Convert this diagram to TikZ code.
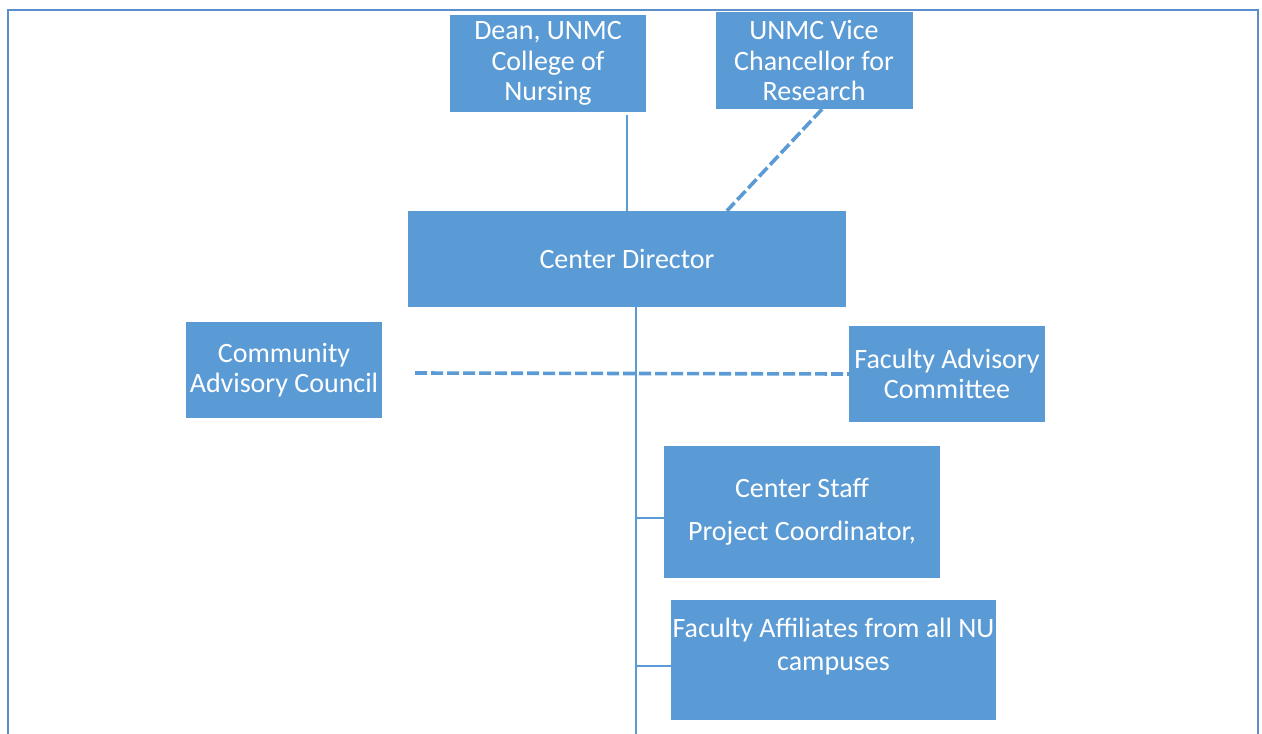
\documentclass[tikz,border=0pt]{standalone}
\usepackage{fontspec}
\setmainfont{Carlito}
\usetikzlibrary{calc}
\definecolor{boxblue}{HTML}{5B9BD5}
\definecolor{frameblue}{HTML}{5A8FCC}
\tikzset{
  orgbox/.style={fill=boxblue, text=white, align=center, inner sep=0pt, draw=none,
    font=\fontsize{28}{30.5}\selectfont},
  solidlink/.style={draw=boxblue, line width=1.6pt},
  dashlink/.style={draw=boxblue, line width=3.6pt, dash pattern=on 12pt off 4pt},
}
\begin{document}
\begin{tikzpicture}[x=1pt,y=-1pt]
\useasboundingbox (0,0) rectangle (1262,734);
% frame
\draw[frameblue, line width=2pt] (8,745) -- (8,10) -- (1258,10) -- (1258,745);
% boxes
\node[orgbox, minimum width=196pt, minimum height=97pt] (dean) at (548,63.5) {Dean, UNMC\\College of\\Nursing};
\node[orgbox, minimum width=197pt, minimum height=97pt] (vice) at (814,60.5) {UNMC Vice\\Chancellor for\\Research};
\node[orgbox, minimum width=438pt, minimum height=96pt] (dir) at (627,259) {Center Director};
\node[orgbox, minimum width=196pt, minimum height=96pt] (cac) at (284,370) {Community\\Advisory Council};
\node[orgbox, minimum width=196pt, minimum height=96pt] (fac) at (947,374) {Faculty Advisory\\Committee};
\node[orgbox, minimum width=276pt, minimum height=132pt] (staff) at (802,512) {Center Staff\\[12.5pt]Project Coordinator,};
\node[orgbox, minimum width=325pt, minimum height=120pt] (aff) at (833.5,660) {Faculty Affiliates from all NU\\[2.5pt]campuses\\\mbox{}};
\coordinate (trunk) at ($(dir.south)+(9,0)$);
\coordinate (bot) at ($(trunk)+(0,440)$);
\coordinate (sa) at ($(staff.west)+(0,6)$);
\coordinate (aa) at ($(aff.west)+(0,6)$);
% connectors
\draw[solidlink] (dir.north) -- ($(dir.north |- dean.south)+(0,3)$);
\draw[dashlink] ($(vice.south)+(8,0)$) -- ($(dir.north)+(100,0)$);
\draw[solidlink] (trunk) -- (bot);
\draw[dashlink] ($(cac.east)+(33,3)$) -- (fac.west);
\draw[solidlink] (trunk |- sa) -- (sa);
\draw[solidlink] (trunk |- aa) -- (aa);
\end{tikzpicture}
\end{document}
